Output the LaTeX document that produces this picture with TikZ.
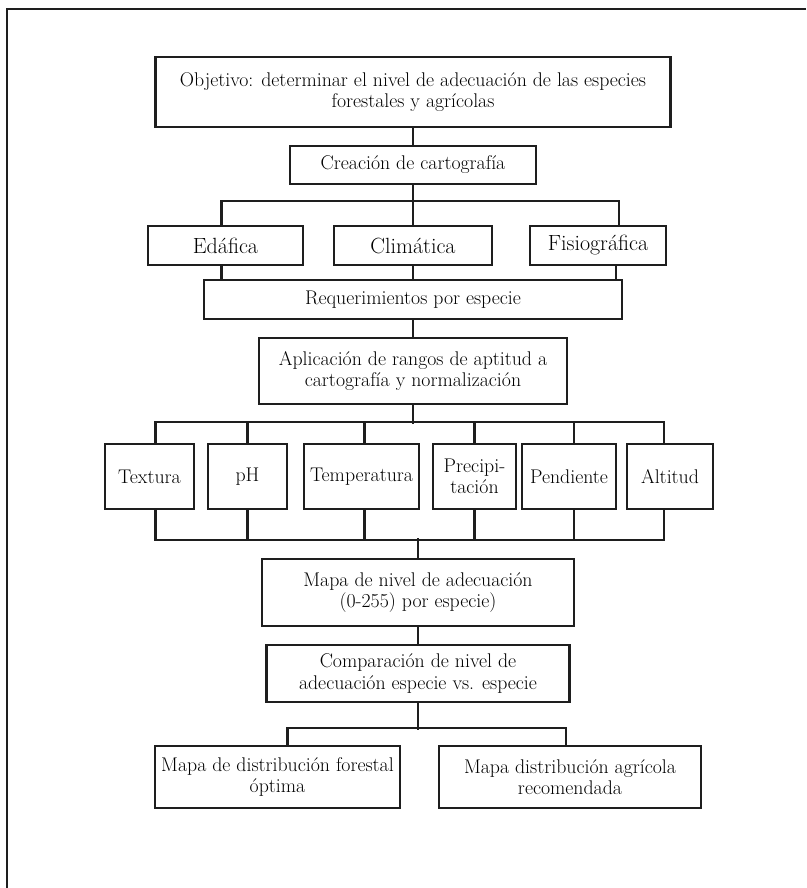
\documentclass[tikz,border=0pt]{standalone}
\usepackage{tikz}
\definecolor{trazo}{RGB}{30, 30, 30}
\tikzset{
  caja/.style={draw=trazo, line width=2.2pt, inner sep=0pt, align=center,
    font=\fontsize{19.8}{21.5}\selectfont},
  capa/.style={caja, font=\fontsize{22}{24}\selectfont},
  union/.style={draw=trazo, line width=2.2pt}
}

\begin{document}
\begin{tikzpicture}[x=1pt, y=1pt]
            \useasboundingbox (0,0) rectangle (806,-888);
            \draw[line width=1.5pt, trazo] (806,-9) -- (7,-9) -- (7,-888);
            % cabecera
            \node[caja, minimum width=515, minimum height=70] (obj) at (413,-92)
              {Objetivo: determinar el nivel de adecuación de las especies\\forestales y agrícolas};
            \node[caja, minimum width=246, minimum height=38] (crea) at (413,-165) {Creación de cartografía};
            \node[capa, minimum width=155, minimum height=39] (eda) at (225.5,-245.5) {Edáfica};
            \node[capa, minimum width=158, minimum height=39] (cli) at (413,-245.5) {Climática};
            \node[capa, minimum width=136, minimum height=39] (fis) at (598,-245.5) {Fisiográfica};
            \node[caja, minimum width=418, minimum height=39] (req) at (413,-299.5) {Requerimientos por especie};
            \node[caja, minimum width=308, minimum height=66] (apl) at (413,-371)
              {Aplicación de rangos de aptitud a\\cartografía y normalización};
            % criterios
            \foreach \n/\x/\w/\t in {tex/149.5/89/Textura, ph/247.5/79/pH, tem/361.5/115/Temperatura,
                pre/474.5/83/{Precipi-\\tación}, pen/569/94/Pendiente, alt/670/86/Altitud}
              \node[caja, minimum width=\w, minimum height=65] (\n) at (\x,-476.5) {\t};
            \node[caja, minimum width=312, minimum height=67] (map) at (418,-592.5)
              {Mapa de nivel de adecuación\\(0-255) por especie)};
            \node[caja, minimum width=303, minimum height=57] (com) at (418,-673.5)
              {Comparación de nivel de\\adecuación especie vs. especie};
            \node[caja, minimum width=245, minimum height=62] (dfo) at (277.5,-777)
              {Mapa de distribución forestal\\óptima};
            \node[caja, minimum width=262, minimum height=62] (dag) at (570,-777)
              {Mapa distribución agrícola\\recomendada};
            % uniones
            \draw[union] (obj.south) -- (crea.north);
            \draw[union] (crea.south) -- (cli.north);
            \draw[union] ([xshift=-4]eda.north) -- ++(0,24) -| ([xshift=21]fis.north);
            \draw[union] ([xshift=-4]eda.south) -- ([xshift=-4]eda.south |- req.north);
            \draw[union] (cli.south) -- (req.north -| cli.south);
            \draw[union] ([xshift=18]fis.south) -- ([xshift=18]fis.south |- req.north);
            \draw[union] (req.south) -- (apl.north);
            \draw[union] (apl.south) -- ++(0,-19);
            \draw[union] ([xshift=6]tex.north) -- ++(0,21) -| ([xshift=-6]alt.north);
            \draw[union] ([xshift=6]tex.south) -- ++(0,-30) -| ([xshift=-6]alt.south);
            \foreach \n/\s in {ph/0, tem/3, pre/0, pen/5} {
              \draw[union] ([xshift=\s]\n.north) -- ++(0,21);
              \draw[union] ([xshift=\s]\n.south) -- ++(0,-30);
            }
            \draw[union] (map.north) -- ++(0,20);
            \draw[union] (map.south) -- (com.north);
            \draw[union] (com.south) -- ++(0,-27);
            \draw[union] ([xshift=10]dfo.north) -- ++(0,17) -| ([xshift=-4]dag.north);
          \end{tikzpicture}
\end{document}
